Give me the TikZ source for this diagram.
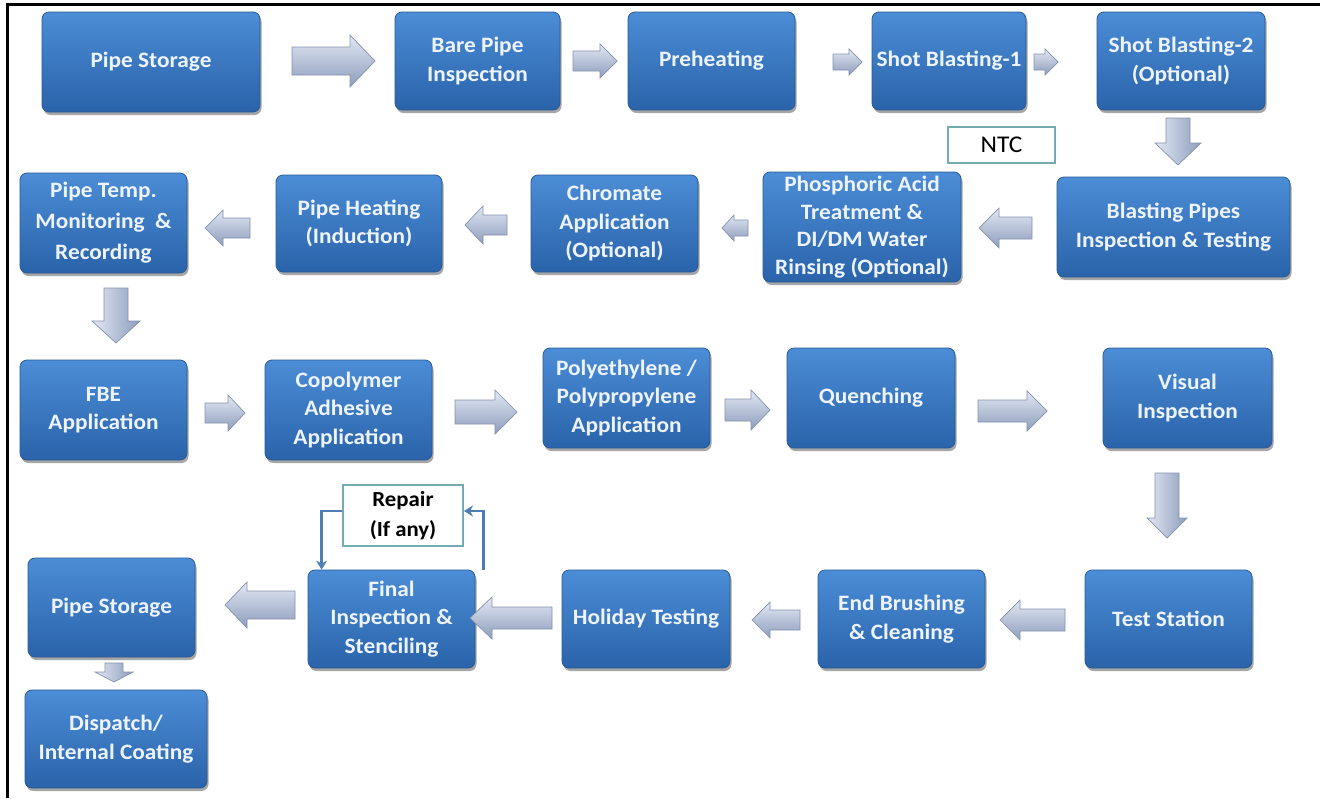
\documentclass[tikz,border=0pt]{standalone}
\usepackage{fontspec}
\setmainfont{Carlito}[FakeStretch=1.06]
\usetikzlibrary{shadows,arrows.meta}

\definecolor{boxtop}{HTML}{4B8DD6}
\definecolor{boxbot}{HTML}{2A63AA}
\definecolor{boxedge}{HTML}{2A5A96}
\definecolor{boxtext}{HTML}{EEF4FF}
\definecolor{arrlight}{HTML}{E2E8F4}
\definecolor{arrdark}{HTML}{8E9DBC}
\definecolor{arredge}{HTML}{8591AC}
\definecolor{notecol}{HTML}{74ABAE}
\definecolor{linkcol}{HTML}{4D7DB4}

\tikzset{
  box/.style={rectangle, rounded corners=7pt, top color=boxtop, bottom color=boxbot,
    draw=boxedge, line width=0.8pt, text=boxtext, align=center, inner sep=0pt,
    font=\bfseries\fontsize{22}{28.5}\selectfont,
    drop shadow={shadow xshift=1.5pt, shadow yshift=-3pt, opacity=0.35, fill=black}},
  note/.style={rectangle, draw=notecol, line width=2pt, fill=white, text=black,
    align=center, inner sep=0pt},
  blockarr/.style={draw=arredge, line width=0.7pt, line join=miter},
  link/.style={draw=linkcol, line width=2.4pt, -{Stealth[length=9pt,width=11pt]}}
}

% block arrows: right / left take x1 x2 yc shaft-half head-half head-length
\newcommand\arrRight[6]{%
  \path[blockarr, top color=arrlight, bottom color=arrdark]
    (#1,#3-#4) -- (#2-#6,#3-#4) -- (#2-#6,#3-#5) -- (#2,#3) -- (#2-#6,#3+#5)
    -- (#2-#6,#3+#4) -- (#1,#3+#4) -- cycle;}
\newcommand\arrLeft[6]{%
  \path[blockarr, top color=arrlight, bottom color=arrdark]
    (#2,#3-#4) -- (#1+#6,#3-#4) -- (#1+#6,#3-#5) -- (#1,#3) -- (#1+#6,#3+#5)
    -- (#1+#6,#3+#4) -- (#2,#3+#4) -- cycle;}
% down arrow: xc y1 y2 shaft-half head-half head-length
\newcommand\arrDown[6]{%
  \path[blockarr, left color=arrlight, right color=arrdark]
    (#1-#4,#2) -- (#1+#4,#2) -- (#1+#4,#3-#6) -- (#1+#5,#3-#6) -- (#1,#3)
    -- (#1-#5,#3-#6) -- (#1-#4,#3-#6) -- cycle;}

\begin{document}
\begin{tikzpicture}[x=1pt,y=-1pt]
\useasboundingbox (0,0) rectangle (1320,798);
\fill[white] (0,0) rectangle (1320,798);

% outer frame (top and left edges)
\draw[line width=3pt] (7,798) -- (7,4.5) -- (1320,4.5);

% ---- row 1
\node[box, minimum width=218pt, minimum height=100pt] (st1) at (151,62) {Pipe Storage};
\node[box, minimum width=165pt, minimum height=98pt] (bare) at (477.5,61) {Bare Pipe\\Inspection};
\node[box, minimum width=167pt, minimum height=98pt] (pre) at (711.5,61) {Preheating};
\node[box, minimum width=154pt, minimum height=98pt] (sb1) at (949,61) {Shot Blasting-1};
\node[box, minimum width=168pt, minimum height=98pt] (sb2) at (1181,61) {Shot Blasting-2\\(Optional)};

% ---- row 2
\node[box, minimum width=233pt, minimum height=100pt] (bpit) at (1173.5,227) {Blasting Pipes\\Inspection \& Testing};
\node[box, minimum width=198pt, minimum height=110pt, font=\bfseries\fontsize{22}{27.5}\selectfont] (phos) at (862,227) {Phosphoric Acid\\Treatment \&\\DI/DM Water\\Rinsing (Optional)};
\node[box, minimum width=167pt, minimum height=97pt] (chrom) at (614.5,223.5) {Chromate\\Application\\(Optional)};
\node[box, minimum width=166pt, minimum height=97pt] (heat) at (359,223.5) {Pipe Heating\\(Induction)};
\node[box, minimum width=167pt, minimum height=100pt, font=\bfseries\fontsize{22}{31}\selectfont] (temp) at (103.5,223) {Pipe Temp.\\Monitoring~~\&\\Recording};

% ---- row 3
\node[box, minimum width=167pt, minimum height=100pt] (fbe) at (103.5,410) {FBE\\Application};
\node[box, minimum width=167pt, minimum height=100pt] (copo) at (348.5,410) {Copolymer\\Adhesive\\Application};
\node[box, minimum width=167pt, minimum height=100pt] (poly) at (626.5,398) {Polyethylene /\\Polypropylene\\Application};
\node[box, minimum width=168pt, minimum height=100pt] (quen) at (871,398) {Quenching};
\node[box, minimum width=169pt, minimum height=100pt] (vis) at (1187.5,398) {Visual\\Inspection};

% ---- row 4
\node[box, minimum width=167pt, minimum height=98pt] (test) at (1168.5,619) {Test Station};
\node[box, minimum width=167pt, minimum height=98pt] (brush) at (901.5,619) {End Brushing\\\& Cleaning};
\node[box, minimum width=168pt, minimum height=98pt] (holi) at (646,619) {Holiday Testing};
\node[box, minimum width=167pt, minimum height=98pt] (fin) at (391.5,619) {Final\\Inspection \&\\Stenciling};
\node[box, minimum width=167pt, minimum height=99pt] (st2) at (111.5,607.5) {Pipe Storage};
\node[box, minimum width=182pt, minimum height=98pt] (disp) at (116,739) {Dispatch/\\Internal Coating};

% ---- labels
\node[note, minimum width=107pt, minimum height=36pt, font=\fontsize{24}{28}\selectfont] (ntc) at (1001.5,145) {NTC};
\node[note, minimum width=120pt, minimum height=61pt, font=\bfseries\fontsize{21.5}{30}\selectfont] (rep) at (403,515.5) {Repair\\(If any)};

% ---- repair loop
\draw[link] ([yshift=4.5pt]rep.west) -| ([xshift=14pt]fin.north west);
\draw[link] ([xshift=8pt]fin.north east) |- ([yshift=4.5pt]rep.east);

% ---- block arrows, row 1
\arrRight{292}{375}{61}{14}{26}{25}
\arrRight{573}{617}{61}{10}{17}{17}
\arrRight{833}{862}{62}{8}{13}{13}
\arrRight{1034}{1058}{62}{8}{13}{13}
\arrDown{1178}{118}{165}{12}{23}{22}

% ---- row 2
\arrLeft{979}{1032}{228}{11}{20}{20}
\arrLeft{722}{748}{228}{8}{13}{12}
\arrLeft{465}{507}{225}{10}{19}{18}
\arrLeft{205}{250}{228}{10}{18}{18}
\arrDown{116}{288}{343}{12}{24}{22}

% ---- row 3
\arrRight{205}{245}{413}{10}{18}{17}
\arrRight{455}{517}{412}{12}{22}{22}
\arrRight{725}{770}{410}{11}{20}{19}
\arrRight{978}{1047}{411}{11}{20}{20}
\arrDown{1167}{473}{538}{12}{20}{20}

% ---- row 4
\arrLeft{1000}{1065}{620}{11}{20}{20}
\arrLeft{752}{800}{620}{10}{18}{18}
\arrLeft{470}{552}{618}{11}{21}{22}
\arrLeft{225}{295}{605}{14}{23}{22}
\arrDown{114}{663}{682}{9}{19}{10}
\end{tikzpicture}
\end{document}
